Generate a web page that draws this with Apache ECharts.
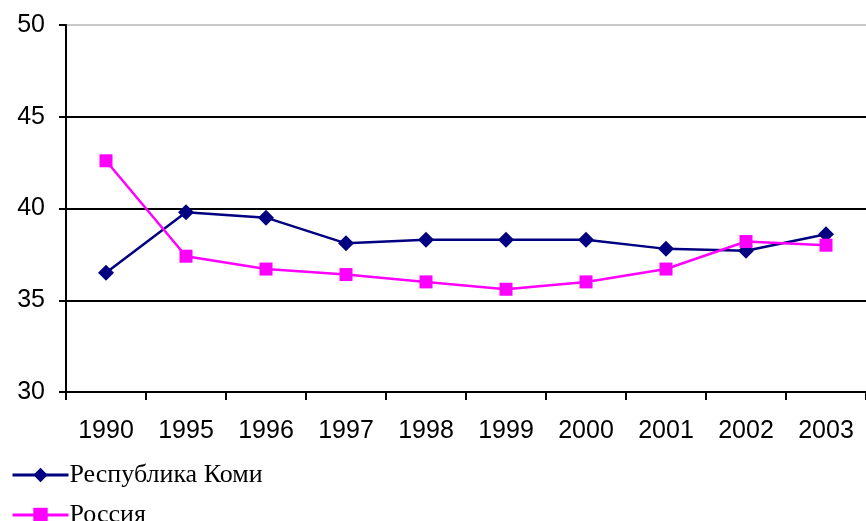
<!DOCTYPE html>
<html>
<head>
<meta charset="utf-8">
<script src="https://cdn.jsdelivr.net/npm/echarts@6/dist/echarts.min.js"></script>
<style>
  html, body { margin: 0; padding: 0; background: #fff; }
  #chart { width: 866px; height: 521px; }
</style>
</head>
<body>
<div id="chart"></div>
<script>
// годы
const years = ['1990', '1995', '1996', '1997', '1998', '1999', '2000', '2001', '2002', '2003'];
// Республика Коми
const komi = [36.5, 39.8, 39.5, 38.1, 38.3, 38.3, 38.3, 37.8, 37.7, 38.6];
// Россия
const russia = [42.6, 37.4, 36.7, 36.4, 36.0, 35.6, 36.0, 36.7, 38.2, 38.0];

const chart = echarts.init(document.getElementById('chart'));

const legendBase = {
  orient: 'vertical',
  left: 6,
  itemWidth: 56,
  itemHeight: 18,
  lineStyle: { width: 3 },
  textStyle: { fontFamily: 'Liberation Serif', fontSize: 26, color: '#000', padding: [0, 0, 0, -4] }
};

const option = {
  animation: false,
  grid: { left: 66, right: -6, top: 25, bottom: 129, containLabel: false },
  legend: [
    Object.assign({}, legendBase, { top: 457, data: ['Республика Коми'] }),
    Object.assign({}, legendBase, { top: 497, data: ['Россия'] })
  ],
  xAxis: {
    type: 'category',
    data: years,
    boundaryGap: true,
    axisLine: { show: true, lineStyle: { color: '#000', width: 2 } },
    axisTick: { show: true, length: 8, lineStyle: { color: '#000', width: 2 } },
    axisLabel: { fontFamily: 'Liberation Sans', fontSize: 25, color: '#000', margin: 27 }
  },
  yAxis: {
    type: 'value',
    min: 30,
    max: 50,
    interval: 5,
    axisLine: { show: true, lineStyle: { color: '#000', width: 2 } },
    axisTick: { show: true, length: 7, lineStyle: { color: '#000', width: 2 } },
    axisLabel: { fontFamily: 'Liberation Sans', fontSize: 25, color: '#000', margin: 21 },
    splitLine: {
      show: true,
      lineStyle: {
        width: 2,
        color: ['#000', '#000', '#000', '#000', '#c8c8c8']
      }
    }
  },
  series: [
    {
      name: 'Республика Коми',
      type: 'line',
      data: komi,
      symbol: 'diamond',
      symbolSize: 16,
      lineStyle: { color: '#000080', width: 2.5 },
      itemStyle: { color: '#000080' }
    },
    {
      name: 'Россия',
      type: 'line',
      data: russia,
      symbol: 'rect',
      symbolSize: 13,
      lineStyle: { color: '#ff00ff', width: 2.5 },
      itemStyle: { color: '#ff00ff' }
    }
  ]
};

chart.setOption(option);
</script>
</body>
</html>
